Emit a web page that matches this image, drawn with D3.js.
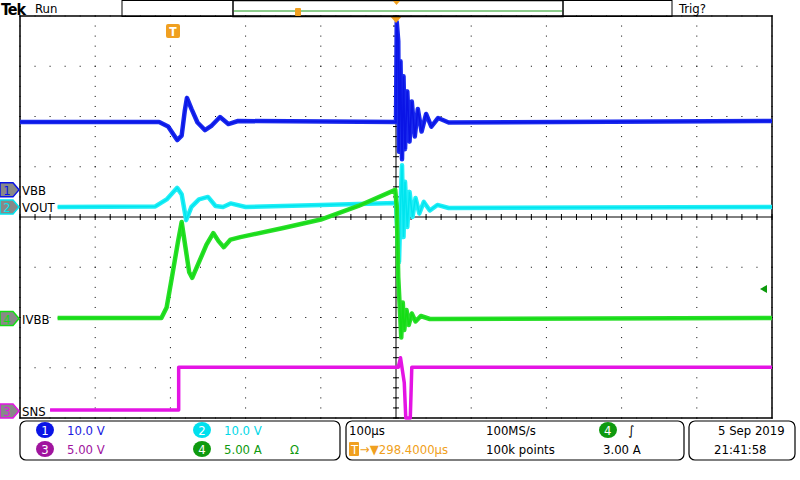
<!DOCTYPE html>
<html><head><meta charset="utf-8">
<script src="https://cdn.jsdelivr.net/npm/d3@7"></script>
<style>body{margin:0;background:#fff}text{font-family:"DejaVu Sans Condensed","DejaVu Sans",sans-serif}</style>
</head><body><svg id="scope" width="800" height="480"></svg>
<script>
// Traces: [time µs, divisions from screen centre]
const vbb = [[-500,1.89],[-315,1.89],[-303,1.8],[-291,1.53],[-285,1.62],[-281,2.1],[-278,2.37],[-272,2.15],[-264,1.88],[-254,1.73],[-245,1.82],[-234,1.99],[-223,1.85],[-210,1.91],[0,1.89],[1,3.88],[3,3.5],[4,1.3],[6,3.1],[8,1.15],[10,2.8],[12,1.35],[15,2.5],[18,1.5],[21,2.3],[25,1.6],[29,2.15],[34,1.7],[40,2.05],[47,1.8],[56,1.97],[70,1.88],[500,1.91]];
const vout = [[-450,0.2],[-320,0.21],[-305,0.35],[-291,0.58],[-285,0.45],[-279,-0.06],[-272,0.2],[-262,0.35],[-250,0.4],[-240,0.22],[-230,0.2],[-220,0.27],[-200,0.2],[-100,0.24],[0,0.28],[2,-0.4],[4,-0.9],[6,0.2],[8,1.03],[10,-0.4],[12,0.7],[15,-0.2],[18,0.5],[22,0.0],[26,0.38],[31,0.07],[37,0.3],[45,0.13],[55,0.24],[70,0.18],[500,0.2]];
const ivbb = [[-450,-2.01],[-312,-2.01],[-305,-1.8],[-298,-1.2],[-290,-0.5],[-285,-0.1],[-280,-0.6],[-275,-1.1],[-271,-1.21],[-262,-0.9],[-252,-0.55],[-243,-0.32],[-236,-0.48],[-229,-0.6],[-220,-0.45],[-207,-0.4],[-150,-0.22],[-100,-0.05],[-50,0.22],[-1,0.54],[1,0.2],[3,-1.2],[5,-1.8],[7,-2.4],[9,-1.7],[11,-2.25],[14,-1.85],[17,-2.15],[21,-1.92],[26,-2.08],[33,-1.97],[45,-2.03],[500,-2.01]];
const sns = [[-460,-3.84],[-289,-3.84],[-289,-2.99],[0,-2.99],[3,-2.99],[6,-2.8],[8,-3.0],[11,-3.3],[13,-4.0],[19,-4.0],[20,-3.5],[21,-2.99],[500,-2.99]];
const traces = [
  {name:"VBB", num:"1", color:"#0a14e6", band:"#1a2aee", data:vbb, w:4.5, lab:0.54},
  {name:"VOUT", num:"2", color:"#00e5ef", band:"#22eef6", data:vout, w:4.5, lab:0.2},
  {name:"IVBB", num:"4", color:"#14dd14", band:"#2ade2a", data:ivbb, w:4.5, lab:-2.02},
  {name:"SNS", num:"3", color:"#e414e4", band:"#e414e4", data:sns, w:3.5, lab:-3.86}
];
const panel1 = [
  {num:"1", fill:"#0a14e6", text:"10.0 V", col:"#1a1ae0", cx:45, row:0},
  {num:"2", fill:"#00e0ee", text:"10.0 V", col:"#00d8e8", cx:202, row:0},
  {num:"3", fill:"#a0149e", text:"5.00 V", col:"#a0149e", cx:45, row:1},
  {num:"4", fill:"#0f9a0f", text:"5.00 A", col:"#0f9a0f", cx:202, row:1}
];

const svg = d3.select("#scope");
const plot = {l:20, r:772, t:16, b:418};
const x = d3.scaleLinear().domain([-500,500]).range([plot.l,plot.r]);
const y = d3.scaleLinear().domain([-4,4]).range([plot.b,plot.t]);

// graticule dots
const g = svg.append("g");
d3.range(-500,501,20).forEach(t => {
  d3.range(-4,4.01,1).forEach(v => g.append("rect").attr("x",x(t)-0.5).attr("y",y(v)-0.5).attr("width",1).attr("height",1).attr("fill","#000"));
});
d3.range(-4,4.01,0.2).forEach(v => {
  d3.range(-500,501,100).forEach(t => g.append("rect").attr("x",x(t)-0.5).attr("y",y(v)-0.5).attr("width",1).attr("height",1).attr("fill","#000"));
});
g.append("line").attr("x1",plot.l).attr("x2",plot.r).attr("y1",y(0)).attr("y2",y(0)).attr("stroke","#000");
g.append("line").attr("x1",x(0)).attr("x2",x(0)).attr("y1",plot.t).attr("y2",plot.b).attr("stroke","#000");
d3.range(-500,501,20).forEach(t => g.append("line").attr("x1",x(t)).attr("x2",x(t)).attr("y1",y(0)-3).attr("y2",y(0)+3).attr("stroke","#000"));
d3.range(-4,4.01,0.2).forEach(v => g.append("line").attr("x1",x(0)-3).attr("x2",x(0)+3).attr("y1",y(v)).attr("y2",y(v)).attr("stroke","#000"));
g.append("rect").attr("x",plot.l).attr("y",plot.t).attr("width",plot.r-plot.l).attr("height",plot.b-plot.t).attr("fill","none").attr("stroke","#000").attr("stroke-width",1.5);

// traces
const line = d3.line().x(d => x(d[0])).y(d => y(d[1]));
traces.forEach(tr => {
  svg.append("path").attr("d",line(tr.data)).attr("fill","none").attr("stroke",tr.band).attr("stroke-width",tr.w).attr("stroke-linejoin","round");
  svg.append("path").attr("d",line(tr.data)).attr("fill","none").attr("stroke",tr.color).attr("stroke-width",1.5);
});

// channel labels
traces.forEach(tr => {
  const yy = y(tr.lab);
  svg.append("path").attr("d",`M0,${yy-7}H13L19,${yy}L13,${yy+7}H0Z`).attr("fill","#888").attr("stroke",tr.color).attr("stroke-width",1.5);
  svg.append("text").attr("x",7).attr("y",yy+5).attr("text-anchor","middle").attr("font-size",13).attr("fill",tr.color).text(tr.num);
  svg.append("text").attr("x",22).attr("y",yy+5).attr("font-size",13).attr("fill","#000").text(tr.name);
});
// trigger level marker
svg.append("path").attr("d","M760,289L767,285V293Z").attr("fill","#0c9a0c");

// trigger position markers
svg.append("path").attr("d","M390,16H402L396,23Z").attr("fill","#f0a020");
svg.append("rect").attr("x",166).attr("y",24).attr("width",14).attr("height",14).attr("rx",2).attr("fill","#f0a020");
svg.append("text").attr("x",173).attr("y",36).attr("text-anchor","middle").attr("font-size",12).attr("font-weight","bold").attr("fill","#fff").text("T");

// top bar
svg.append("text").attr("x",1).attr("y",15).attr("font-family","Liberation Serif").attr("font-weight","bold").attr("font-size",16).attr("letter-spacing",-1).text("Tek");
svg.append("text").attr("x",35).attr("y",13).attr("font-size",13).text("Run");
svg.append("text").attr("x",679).attr("y",13).attr("font-size",13).text("Trig?");
svg.append("rect").attr("x",122).attr("y",0.5).attr("width",550).attr("height",16).attr("fill","none").attr("stroke","#000");
svg.append("rect").attr("x",233).attr("y",0.5).attr("width",330).attr("height",16).attr("fill","none").attr("stroke","#000").attr("stroke-width",1.5);
svg.append("line").attr("x1",234).attr("x2",562).attr("y1",11).attr("y2",11).attr("stroke","#1a9a1a");
svg.append("path").attr("d","M393,1H400L396.5,5Z").attr("fill","#f0a020");
svg.append("rect").attr("x",295).attr("y",8).attr("width",6).attr("height",8).attr("rx",1).attr("fill","#f0a020");

// bottom panels
const boxes = [[20,421,320,39],[346,421,338,39],[689,421,106,39]];
boxes.forEach(b => svg.append("rect").attr("x",b[0]).attr("y",b[1]).attr("width",b[2]).attr("height",b[3]).attr("rx",6).attr("fill","#fff").attr("stroke","#000").attr("stroke-width",1.2));
panel1.forEach(p => {
  const cy = 430 + p.row*19;
  svg.append("ellipse").attr("cx",p.cx).attr("cy",cy).attr("rx",9).attr("ry",8).attr("fill",p.fill);
  svg.append("text").attr("x",p.cx).attr("y",cy+5).attr("text-anchor","middle").attr("font-size",13).attr("fill","#fff").text(p.num);
  svg.append("text").attr("x",p.cx+22).attr("y",cy+5).attr("font-size",13).attr("fill",p.col).text(p.text);
});
svg.append("text").attr("x",290).attr("y",454).attr("font-size",13).attr("fill","#0f9a0f").text("Ω");
const t = (xx,yy,s,c) => svg.append("text").attr("x",xx).attr("y",yy).attr("font-size",13).attr("fill",c||"#000").text(s);
t(349,435,"100µs"); t(486,435,"100MS/s"); t(486,454,"100k points"); t(603,454,"3.00 A");
svg.append("ellipse").attr("cx",608).attr("cy",430).attr("rx",9).attr("ry",8).attr("fill","#0f9a0f");
t(604,435,"4","#fff"); t(628,435,"∫");
svg.append("rect").attr("x",349).attr("y",442).attr("width",10).attr("height",14).attr("rx",1).attr("fill","#f0a020");
t(351,454,"T","#fff"); t(360,454,"→▼298.4000µs","#f0a020");
t(718,435,"5 Sep  2019"); t(714,454,"21:41:58");
</script></body></html>
